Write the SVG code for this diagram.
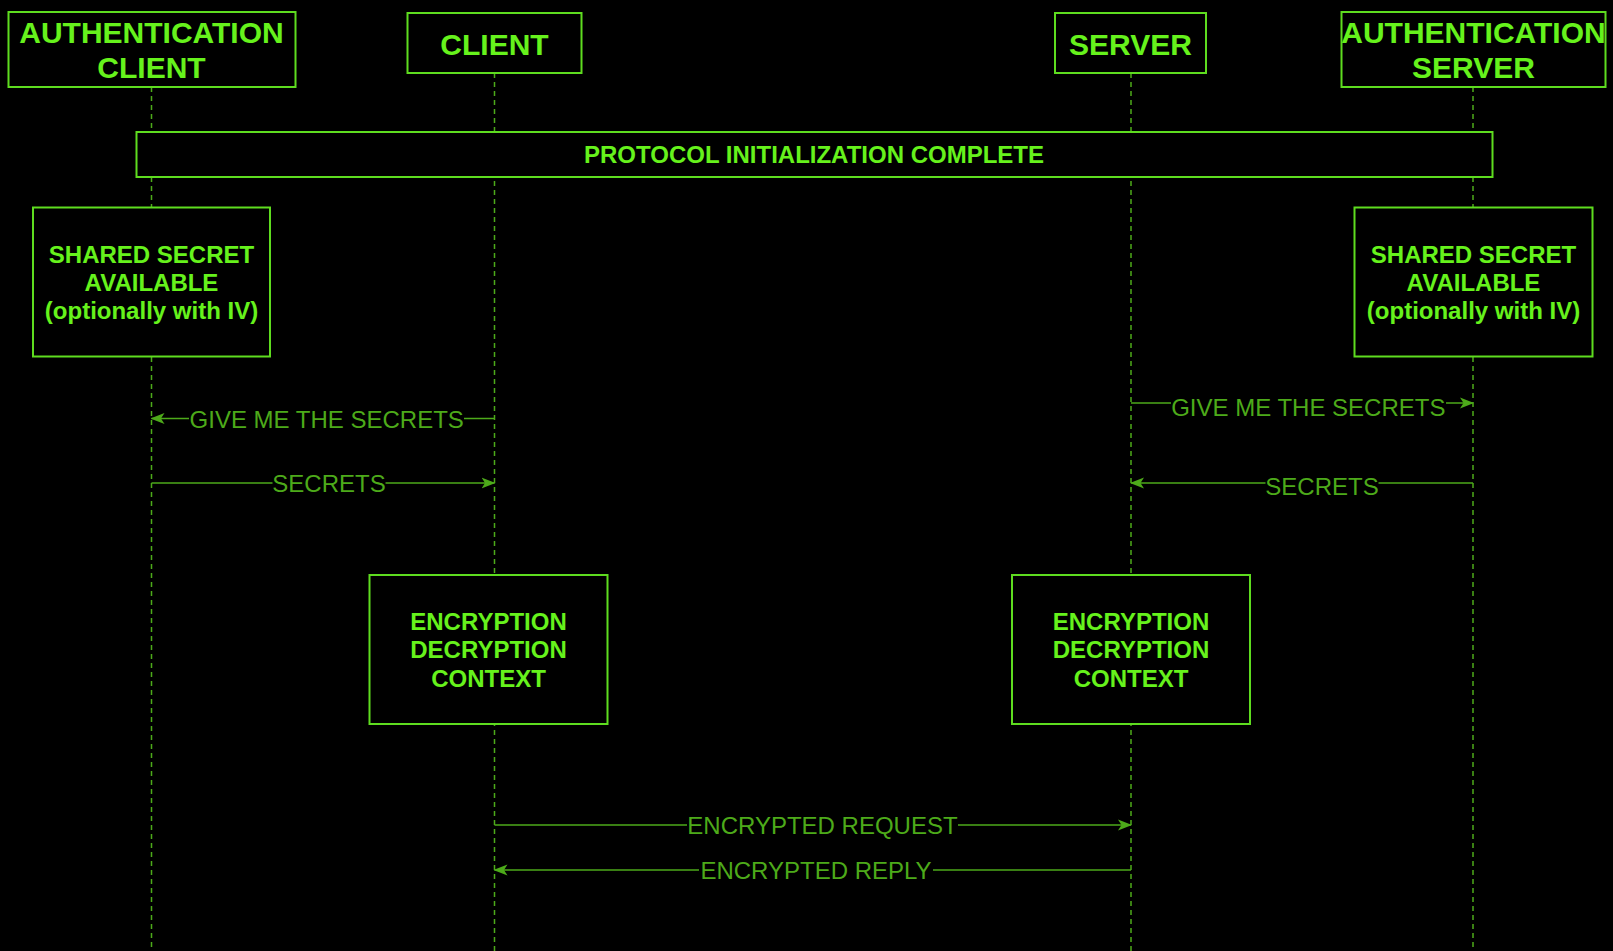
<svg xmlns="http://www.w3.org/2000/svg" width="1613" height="951" viewBox="0 0 1613 951">
  <defs>
    <style>
      .box { fill: #000000; stroke: #5EDC1F; stroke-width: 2; }
      .title { font-family: "Liberation Sans", Arial, sans-serif; font-weight: bold; fill: #66F21C; text-anchor: middle; }
      .h30 { font-size: 30px; }
      .h24 { font-size: 24px; }
      .life { stroke: #4DAA1A; stroke-width: 1.5; stroke-dasharray: 5 4; fill: none; }
      .msg { stroke: #4DAA1A; stroke-width: 1.5; fill: none; }
      .lbl { font-family: "Liberation Sans", Arial, sans-serif; font-size: 24px; fill: #4DAA1A; text-anchor: middle; }
      .lblbg { fill: #000000; }
    </style>
    <marker id="arrow" viewBox="0 0 14 12" refX="13" refY="6" markerWidth="14" markerHeight="12" markerUnits="userSpaceOnUse" orient="auto">
      <path d="M0,0.5 L14,6 L0,11.5 L3.5,6 Z" fill="#4DAA1A"/>
    </marker>
  </defs>

  <rect x="0" y="0" width="1613" height="951" fill="#000000"/>

  <!-- lifelines -->
  <g id="lifelines">
    <line class="life" x1="151.5" y1="87" x2="151.5" y2="951"/>
    <line class="life" x1="494.5" y1="73" x2="494.5" y2="951"/>
    <line class="life" x1="1131" y1="73" x2="1131" y2="951"/>
    <line class="life" x1="1473" y1="87" x2="1473" y2="951"/>
  </g>

  <!-- participants -->
  <g id="auth-client">
    <rect class="box" x="8.5" y="12" width="287" height="75"/>
    <text class="title h30" x="151.5" y="42.5">AUTHENTICATION</text>
    <text class="title h30" x="151.5" y="78">CLIENT</text>
  </g>
  <g id="client">
    <rect class="box" x="407.5" y="13" width="174" height="60"/>
    <text class="title h30" x="494.5" y="54.5">CLIENT</text>
  </g>
  <g id="server">
    <rect class="box" x="1055" y="13" width="151" height="60"/>
    <text class="title h30" x="1130.5" y="55">SERVER</text>
  </g>
  <g id="auth-server">
    <rect class="box" x="1341.5" y="12" width="264" height="75"/>
    <text class="title h30" x="1473.5" y="42.5">AUTHENTICATION</text>
    <text class="title h30" x="1473.5" y="78">SERVER</text>
  </g>

  <!-- protocol bar -->
  <g id="protocol-init">
    <rect class="box" x="136.5" y="132" width="1356" height="45"/>
    <text class="title h24" x="814" y="162.5">PROTOCOL INITIALIZATION COMPLETE</text>
  </g>

  <!-- shared secret notes -->
  <g id="secret-client">
    <rect class="box" x="33" y="207.5" width="237" height="149"/>
    <text class="title h24" x="151.5" y="262.7">SHARED SECRET</text>
    <text class="title h24" x="151.5" y="291">AVAILABLE</text>
    <text class="title h24" x="151.5" y="319.3">(optionally with IV)</text>
  </g>
  <g id="secret-server">
    <rect class="box" x="1354.5" y="207.5" width="238" height="149"/>
    <text class="title h24" x="1473.5" y="262.7">SHARED SECRET</text>
    <text class="title h24" x="1473.5" y="291">AVAILABLE</text>
    <text class="title h24" x="1473.5" y="319.3">(optionally with IV)</text>
  </g>

  <!-- encryption contexts -->
  <g id="context-client">
    <rect class="box" x="369.5" y="575" width="238" height="149"/>
    <text class="title h24" x="488.5" y="630">ENCRYPTION</text>
    <text class="title h24" x="488.5" y="658.3">DECRYPTION</text>
    <text class="title h24" x="488.5" y="686.7">CONTEXT</text>
  </g>
  <g id="context-server">
    <rect class="box" x="1012" y="575" width="238" height="149"/>
    <text class="title h24" x="1131" y="630">ENCRYPTION</text>
    <text class="title h24" x="1131" y="658.3">DECRYPTION</text>
    <text class="title h24" x="1131" y="686.7">CONTEXT</text>
  </g>

  <!-- messages -->
  <g id="connectors">
    <line class="msg" x1="494.5" y1="418.5" x2="151.5" y2="418.5" marker-end="url(#arrow)"/>
    <rect class="lblbg" x="189" y="406" width="275" height="26"/>
    <text class="lbl" x="326.7" y="428">GIVE ME THE SECRETS</text>

    <line class="msg" x1="151.5" y1="483" x2="494.5" y2="483" marker-end="url(#arrow)"/>
    <rect class="lblbg" x="272.5" y="470" width="113" height="26"/>
    <text class="lbl" x="329" y="491.5">SECRETS</text>

    <line class="msg" x1="1131" y1="403" x2="1473" y2="403" marker-end="url(#arrow)"/>
    <rect class="lblbg" x="1171" y="394" width="275" height="26"/>
    <text class="lbl" x="1308.3" y="416">GIVE ME THE SECRETS</text>

    <line class="msg" x1="1473" y1="483" x2="1131" y2="483" marker-end="url(#arrow)"/>
    <rect class="lblbg" x="1265.5" y="473" width="113" height="26"/>
    <text class="lbl" x="1322" y="495">SECRETS</text>

    <line class="msg" x1="494.5" y1="825" x2="1131" y2="825" marker-end="url(#arrow)"/>
    <rect class="lblbg" x="687" y="812" width="271" height="26"/>
    <text class="lbl" x="822.5" y="833.5">ENCRYPTED REQUEST</text>

    <line class="msg" x1="1131" y1="870" x2="494.5" y2="870" marker-end="url(#arrow)"/>
    <rect class="lblbg" x="699" y="857" width="234" height="26"/>
    <text class="lbl" x="816" y="878.5">ENCRYPTED REPLY</text>
  </g>
</svg>
